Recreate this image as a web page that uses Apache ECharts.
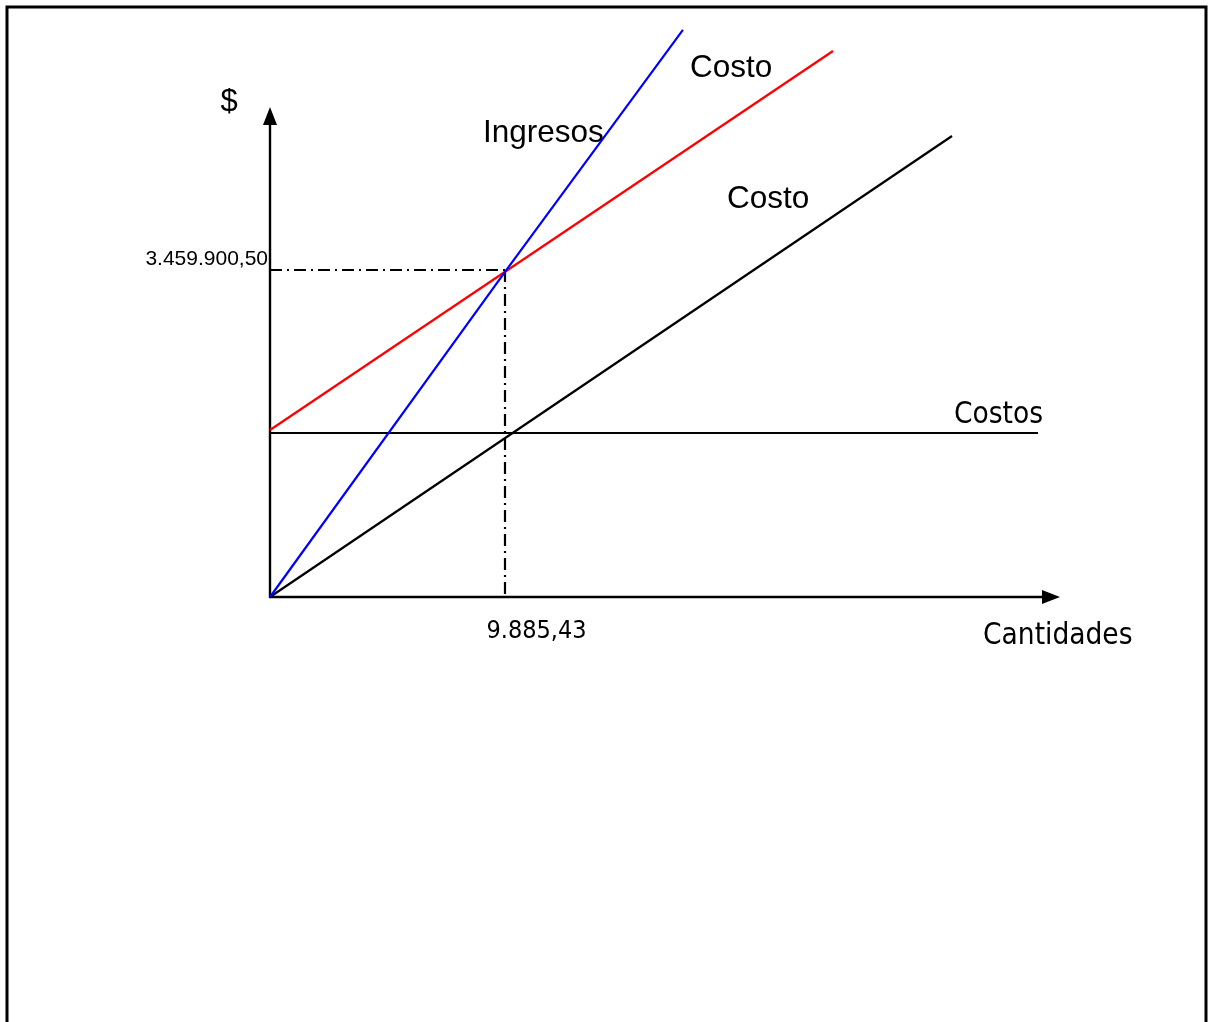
<!DOCTYPE html>
<html>
<head>
<meta charset="utf-8">
<script src="https://cdn.jsdelivr.net/npm/echarts@6/dist/echarts.min.js"></script>
<style>
html,body{margin:0;padding:0;background:#fff;}
#chart{width:1209px;height:1022px;}
</style>
</head>
<body>
<div id="chart"></div>
<script>
// ---- data ----
const breakEvenQ = 9885.43;
const breakEvenY = 3459900.50;
const ingresos = [[0, 0], [9885.43, 3440000], [17370, 6000000]];
const costoTotal = [[0, 1767000], [23683, 5777000]];
const costoVariable = [[0, 0], [28689, 4877700]];
const costosFijos = [[0, 1735200], [32306, 1735200]];
const guideH = [[0, breakEvenY], [breakEvenQ, breakEvenY]];
const guideV = [[breakEvenQ, breakEvenY], [breakEvenQ, 0]];
const xTickLabels = ['9.885,43'];
const yTickLabels = ['3.459.900,50'];
const seriesNames = ['Ingresos', 'Costo', 'Costo', 'Costos'];

// ---- layout ----
const ox = 270, oy = 597;          // origin pixel
const pxBreakX = 505, pxBreakY = 270;
const gridTop = 116, gridRight = 1051;
const gw = gridRight - ox, gh = oy - gridTop;
const xMax = gw * breakEvenQ / (pxBreakX - ox);
const yMax = gh * breakEvenY / (oy - pxBreakY);

const ARIAL = '"Liberation Sans", Arial, sans-serif';
const TAHOMA = '"DejaVu Sans Condensed", "DejaVu Sans", sans-serif';

const chart = echarts.init(document.getElementById('chart'), null, {renderer: 'canvas'});

function lineSeries(data, color, dash) {
  return {
    type: 'line', data: data, symbol: 'none', clip: false, silent: true,
    animation: false,
    lineStyle: {color: color, width: 2.2, type: dash || 'solid'}
  };
}

chart.setOption({
  animation: false,
  backgroundColor: '#fff',
  grid: {left: ox, top: gridTop, width: gw, height: gh, containLabel: false, outerBoundsMode: 'none'},
  xAxis: {
    type: 'value', min: 0, max: xMax,
    axisLine: {show: true, symbol: ['none', 'triangle'], symbolSize: [14, 18], lineStyle: {color: '#000', width: 2.4}},
    axisTick: {show: false},
    splitLine: {show: false},
    axisLabel: {
      show: true, customValues: [breakEvenQ], margin: 22,
      formatter: () => xTickLabels[0],
      color: '#000', fontFamily: TAHOMA, fontSize: 25, padding: [0, 0, 0, 63]
    }
  },
  yAxis: {
    type: 'value', min: 0, max: yMax,
    axisLine: {show: true, symbol: ['none', 'triangle'], symbolSize: [14, 18], lineStyle: {color: '#000', width: 2.4}},
    axisTick: {show: false},
    splitLine: {show: false},
    axisLabel: {
      show: true, customValues: [breakEvenY], margin: 2,
      formatter: () => yTickLabels[0],
      color: '#000', fontFamily: ARIAL, fontSize: 21, verticalAlign: 'bottom'
    }
  },
  series: [
    lineSeries(guideH, '#000', [12, 5, 2, 5]),
    lineSeries(guideV, '#000', [12, 5, 2, 5]),
    lineSeries(costosFijos, '#000'),
    lineSeries(costoVariable, '#000'),
    lineSeries(costoTotal, '#ff0000'),
    lineSeries(ingresos, '#0000ff')
  ],
  graphic: [
    {type: 'rect', shape: {x: 7, y: 7, width: 1199, height: 1100}, style: {fill: 'none', stroke: '#000', lineWidth: 3}, silent: true},
    {type: 'text', x: 229, y: 102, style: {text: '$', font: '31px ' + ARIAL, fill: '#000', textAlign: 'center', textVerticalAlign: 'middle'}},
    {type: 'text', x: 483, y: 133, style: {text: seriesNames[0], font: '31.5px ' + ARIAL, fill: '#000', textAlign: 'left', textVerticalAlign: 'middle'}},
    {type: 'text', x: 690, y: 68, style: {text: seriesNames[1], font: '31.5px ' + ARIAL, fill: '#000', textAlign: 'left', textVerticalAlign: 'middle'}},
    {type: 'text', x: 727, y: 199, style: {text: seriesNames[2], font: '31.5px ' + ARIAL, fill: '#000', textAlign: 'left', textVerticalAlign: 'middle'}},
    {type: 'text', x: 954, y: 415, style: {text: seriesNames[3], font: '29.5px ' + TAHOMA, fill: '#000', textAlign: 'left', textVerticalAlign: 'middle'}},
    {type: 'text', x: 983, y: 636, style: {text: 'Cantidades', font: '29.5px ' + TAHOMA, fill: '#000', textAlign: 'left', textVerticalAlign: 'middle'}}
  ]
});
</script>
</body>
</html>
